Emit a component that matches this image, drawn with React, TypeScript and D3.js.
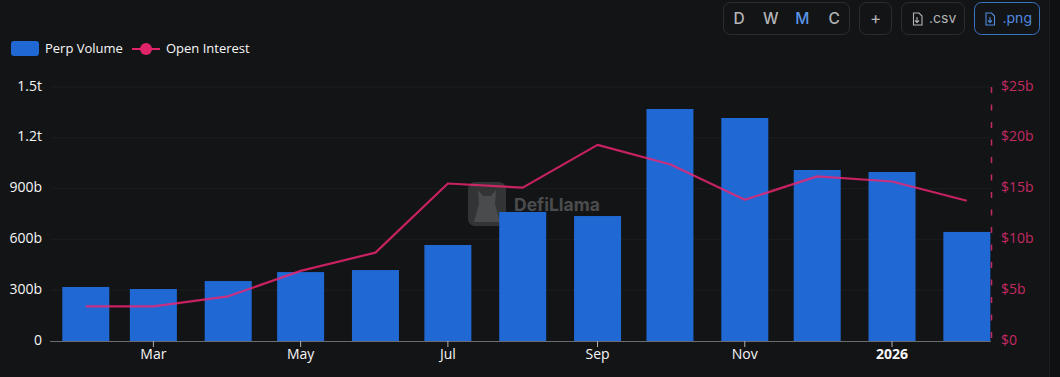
import React from "react";
import * as d3 from "d3";

const months = ["2025-02-01","2025-03-01","2025-04-01","2025-05-01","2025-06-01","2025-07-01","2025-08-01","2025-09-01","2025-10-01","2025-11-01","2025-12-01","2026-01-01","2026-02-01"];
const perpVolume = [319,307,354,407,419,567,762,738,1370,1317,1010,998,644];
const openInterest = [3.4,3.4,4.4,6.9,8.7,15.5,15.1,19.3,17.4,13.9,16.2,15.7,13.8];
const leftTicks = [0,300,600,900,1200,1500];
const leftLabels = ["0","300b","600b","900b","1.2t","1.5t"];
const rightTicks = [0,5,10,15,20,25];
const xTicks = [["2025-03-01","Mar"],["2025-05-01","May"],["2025-07-01","Jul"],["2025-09-01","Sep"],["2025-11-01","Nov"],["2026-01-01","2026"]];
const periods = ["D","W","M","C"];

const F = "'Open Sans', 'Noto Sans', sans-serif";
const INTER = "Inter, sans-serif";
const PINK = "#e0246a";
const RTEXT = "#c22a62";
const date = (s: string) => new Date(s + "T00:00:00Z");

export default function App() {
  const x = d3.scaleUtc().domain([date("2025-01-18"), date("2026-02-11")]).range([52, 991]);
  const y = d3.scaleLinear().domain([0, 1500]).range([341, 87]);
  const yR = d3.scaleLinear().domain([0, 25]).range([341, 87]);
  const line = d3.line<number>().x((_, i) => x(date(months[i]))).y(d => yR(d));
  const barW = 47;
  const btnText = { fontFamily: INTER, fontSize: 15.5, fontWeight: 500, textAnchor: "middle" as const };
  return (
    <svg width={1060} height={377} style={{ position: "absolute", left: 0, top: 0, background: "#131416" }}>
      <rect x={1049} y={0} width={11} height={377} fill="#0f1011" />
      <line x1={1049.5} x2={1049.5} y1={0} y2={377} stroke="#1b1c1e" />
      {leftTicks.slice(1).map(t => (
        <line key={t} x1={51} x2={991} y1={y(t)} y2={y(t)} stroke="#1c1d1f" />
      ))}
      <g>
        <rect x={468} y={182} width={38} height={44} rx={7} fill="#333436" />
        <path d="M478 190 L483 196 L491 196 L496 190 L495 204 L500 222 L474 222 L479 204 Z" fill="#4a4b4d" />
        <text x={514} y={211} fontFamily={INTER} fontSize={17.5} fontWeight={700} fill="#4b4c4e">DefiLlama</text>
      </g>
      {months.map((m, i) => (
        <rect key={m} x={x(date(m)) - barW / 2} y={y(perpVolume[i])} width={barW} height={341 - y(perpVolume[i])} fill="#2068d4" />
      ))}
      <line x1={50} x2={991} y1={341.5} y2={341.5} stroke="#6a6c70" />
      <path d={line(openInterest) || ""} fill="none" stroke="#ee2470" strokeWidth={2.2} strokeOpacity={0.82} strokeLinejoin="round" />
      <line x1={991.5} x2={991.5} y1={87} y2={341} stroke={RTEXT} strokeWidth={1.5} strokeDasharray="6 11.5" />
      {leftTicks.map((t, i) => (
        <text key={t} x={42} y={y(t) + 3.5} textAnchor="end" fontFamily={F} fontSize={14} fill="#f6f6f6">{leftLabels[i]}</text>
      ))}
      {rightTicks.map(t => (
        <text key={t} x={1001} y={yR(t) + 3.5} fontFamily={F} fontSize={14} fill={RTEXT}>{`$${t}${t ? "b" : ""}`}</text>
      ))}
      {xTicks.map(([d, label]) => (
        <g key={d}>
          <line x1={x(date(d))} x2={x(date(d))} y1={341} y2={347} stroke="#b0b0b0" />
          <text x={x(date(d))} y={359} textAnchor="middle" fontFamily={F} fontSize={14} fontWeight={label === "2026" ? 700 : 400} fill="#f6f6f6">{label}</text>
        </g>
      ))}
      <rect x={11} y={41} width={28} height={15} rx={3} fill="#2068d4" />
      <text x={45} y={53} fontFamily={F} fontSize={13} fill="#f8f8f8">Perp Volume</text>
      <line x1={132} x2={160} y1={49} y2={49} stroke={PINK} strokeWidth={2} />
      <circle cx={146} cy={49} r={6} fill={PINK} />
      <text x={166} y={53} fontFamily={F} fontSize={13} fill="#f8f8f8">Open Interest</text>

      <rect x={723.5} y={2.5} width={126} height={32} rx={7} fill="none" stroke="#2c2d30" />
      {periods.map((p, i) => (
        <text key={p} x={739 + i * 31.7} y={23.5} {...btnText} fill={p === "M" ? "#5a94e6" : "#b4b5b7"}>{p}</text>
      ))}
      <rect x={859.5} y={2.5} width={32} height={32} rx={7} fill="none" stroke="#2c2d30" />
      <text x={875.5} y={24} {...btnText} fontSize={17} fontWeight={400} fill="#b4b5b7">+</text>
      <rect x={901.5} y={2.5} width={63} height={32} rx={7} fill="none" stroke="#2c2d30" />
      <path d="M913.5 13 h5.5 l3 3 v9 h-8.5 z M917 17 v5 M915 20.5 l2 2 l2 -2" fill="none" stroke="#b4b5b7" strokeWidth={1.1} />
      <text x={929} y={23} fontFamily={INTER} fontSize={14} fill="#b4b5b7">.csv</text>
      <rect x={974.5} y={2.5} width={65} height={32} rx={7} fill="none" stroke="#3b74c6" />
      <path d="M986 13 h5.5 l3 3 v9 h-8.5 z M990 17 v5 M988 20.5 l2 2 l2 -2" fill="none" stroke="#4f8be0" strokeWidth={1.1} />
      <text x={1002.5} y={23} fontFamily={INTER} fontSize={14} fill="#4f8be0">.png</text>
    </svg>
  );
}
